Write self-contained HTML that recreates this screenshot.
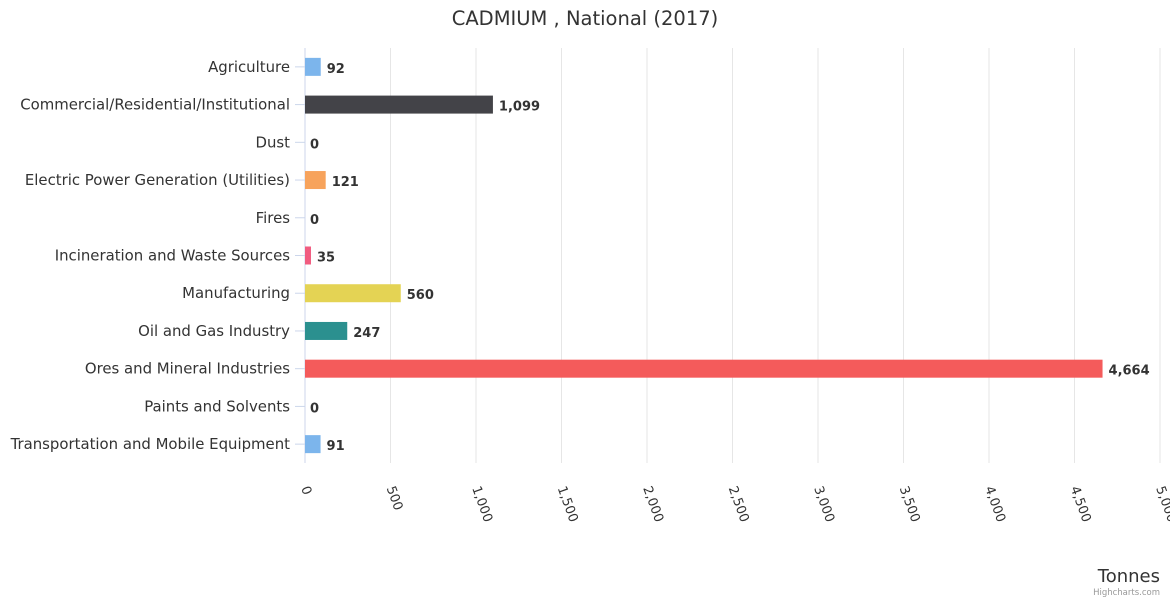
<!DOCTYPE html>
<html><head><meta charset="utf-8"><style>
body{margin:0;background:#fff;}
svg{display:block;font-family:"DejaVu Sans","Liberation Sans",sans-serif;}
</style></head><body>
<svg id="chart" width="1170" height="600">
<rect width="1170" height="600" fill="#fff"/>
<text x="585" y="25" text-anchor="middle" font-size="19.5" fill="#333">CADMIUM , National (2017)</text>
<g id="grid"></g><g id="bars"></g><g id="labels"></g>
<text x="1160" y="582" text-anchor="end" font-size="18" fill="#333">Tonnes</text>
<text x="1160" y="595" text-anchor="end" font-size="8.5" fill="#999">Highcharts.com</text>
</svg>
<script>
const categories=["Agriculture","Commercial/Residential/Institutional","Dust","Electric Power Generation (Utilities)","Fires","Incineration and Waste Sources","Manufacturing","Oil and Gas Industry","Ores and Mineral Industries","Paints and Solvents","Transportation and Mobile Equipment"];
const values=[92,1099,0,121,0,35,560,247,4664,0,91];
const colors=["#7cb5ec","#434348","#90ed7d","#f7a35c","#8085e9","#f15c80","#e4d354","#2b908f","#f45b5b","#91e8e1","#7cb5ec"];
const ticks=[0,500,1000,1500,2000,2500,3000,3500,4000,4500,5000];
const NS="http://www.w3.org/2000/svg";
const X0=305,X1=1160,Y0=48,Y1=463,max=5000;
const xs=v=>X0+(X1-X0)*v/max;
const step=(Y1-Y0)/categories.length;
const yc=i=>Y0+step*(i+0.5);
function mk(t,a,p){const e=document.createElementNS(NS,t);for(const k in a)e.setAttribute(k,a[k]);document.getElementById(p).appendChild(e);return e;}
ticks.forEach(t=>{
 if(t>0){const g=mk("line",{x1:xs(t),x2:xs(t),y1:Y0,y2:Y1,stroke:"#e6e6e6"},"grid");
 
 }
 const l=mk("text",{transform:`translate(${xs(t)-4},488) rotate(70)`,"font-size":"13",fill:"#333"},"labels");
 l.textContent=t.toLocaleString("en-US");
 
 
});
const ax=mk("line",{x1:X0,x2:X0,y1:Y0,y2:Y1,stroke:"#ccd6eb"},"grid");


categories.forEach((c,i)=>{
 const y=yc(i);
 const tk=mk("line",{x1:X0-10,x2:X0,y1:y,y2:y,stroke:"#ccd6eb"},"grid");
 
 
 const t=mk("text",{x:290,y:y+5,"text-anchor":"end","font-size":"14.9",fill:"#333"},"labels");
 t.textContent=c;
 
 
 const w=xs(values[i])-X0;
 if(w>0){const b=mk("rect",{x:X0,y:y-9,width:w,height:18,fill:colors[i]},"bars");
 
 }
 const v=mk("text",{x:X0+w+(w>0?6:5),y:y+6,"font-size":"13","font-weight":"bold",fill:"#333"},"labels");
 v.textContent=values[i].toLocaleString("en-US");
 
 
});
</script>
</body></html>
